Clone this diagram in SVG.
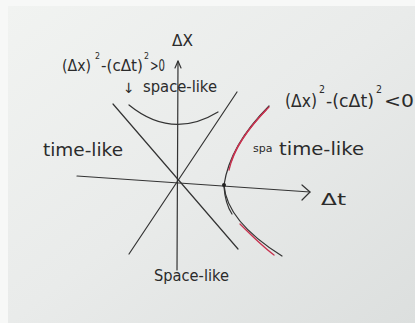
<svg xmlns="http://www.w3.org/2000/svg" width="415" height="323" viewBox="0 0 415 323">
<defs>
<linearGradient id="paper" x1="0" y1="0" x2="1" y2="1">
<stop offset="0" stop-color="#f1f3f1"/>
<stop offset="0.5" stop-color="#e9ebea"/>
<stop offset="1" stop-color="#dcdfde"/>
</linearGradient>
<style>
.ln{fill:none;stroke:#333;stroke-width:1.2;stroke-linecap:round;stroke-linejoin:round}
.red{fill:none;stroke:#c8324f;stroke-width:1.3;stroke-linecap:round}
.tx{font-family:"DejaVu Sans","Liberation Sans",sans-serif;fill:#2b2b2b}
</style>
</defs>
<rect width="415" height="323" fill="#f7f8f7"/>
<rect x="8" y="6" width="407" height="317" fill="url(#paper)"/>
<g id="axes">
<path class="ln" d="M177,270 L178,61"/>
<path class="ln" d="M175,68 L178,61 L181,68"/>
<path class="ln" d="M77,176 L310,192"/>
<path class="ln" d="M302,185 L310,192 L302,200"/>
</g>
<g id="lightcone">
<path class="ln" d="M129,254 L237,92"/>
<path class="ln" d="M113,104 L238,249"/>
</g>
<g id="spacelike-curve">
<path class="ln" d="M129,105 Q172,140 218,112"/>
</g>
<g id="timelike-curve">
<path class="ln" d="M269,106 C245,130 228,158 224,185 C226,212 250,236 282,256"/>
<path class="ln" d="M224,187 C225,200 228,208 232,214"/>
<path class="red" d="M269,107 C248,128 234,148 229,170"/>
<path class="red" d="M266,110 C249,128 236,146 231,162"/>
<path class="red" d="M240,224 C252,236 262,246 274,255"/>
<circle cx="224" cy="185" r="2" fill="#222"/>
</g>
<g id="labels" class="tx">
<text x="172" y="46" font-size="15" textLength="21" lengthAdjust="spacingAndGlyphs">ΔX</text>
<g id="eq-spacelike">
<text x="62" y="71" font-size="16" textLength="29" lengthAdjust="spacingAndGlyphs">(Δx)</text>
<text x="95" y="59" font-size="9" textLength="5" lengthAdjust="spacingAndGlyphs">2</text>
<text x="101" y="71" font-size="16" textLength="42" lengthAdjust="spacingAndGlyphs">-(cΔt)</text>
<text x="144" y="59" font-size="9" textLength="5" lengthAdjust="spacingAndGlyphs">2</text>
<text x="150" y="71" font-size="16" textLength="15" lengthAdjust="spacingAndGlyphs">&gt;0</text>
</g>
<text x="123" y="93" font-size="14">↓</text>
<text x="143" y="92" font-size="15" textLength="74" lengthAdjust="spacingAndGlyphs">space-like</text>
<text x="43" y="156" font-size="17" textLength="80" lengthAdjust="spacingAndGlyphs">time-like</text>
<g id="eq-timelike">
<text x="285" y="107" font-size="17" textLength="32" lengthAdjust="spacingAndGlyphs">(Δx)</text>
<text x="319" y="93" font-size="10" textLength="6" lengthAdjust="spacingAndGlyphs">2</text>
<text x="326" y="107" font-size="17" textLength="48" lengthAdjust="spacingAndGlyphs">-(cΔt)</text>
<text x="376" y="93" font-size="10" textLength="6" lengthAdjust="spacingAndGlyphs">2</text>
<text x="384" y="107" font-size="17" textLength="30" lengthAdjust="spacingAndGlyphs">&lt;0</text>
</g>
<text x="253" y="152" font-size="11">spa</text>
<text x="279" y="155" font-size="17" textLength="85" lengthAdjust="spacingAndGlyphs">time-like</text>
<text x="321" y="205" font-size="16" textLength="25" lengthAdjust="spacingAndGlyphs">Δt</text>
<text x="154" y="281" font-size="15" textLength="75" lengthAdjust="spacingAndGlyphs">Space-like</text>
</g>
</svg>
